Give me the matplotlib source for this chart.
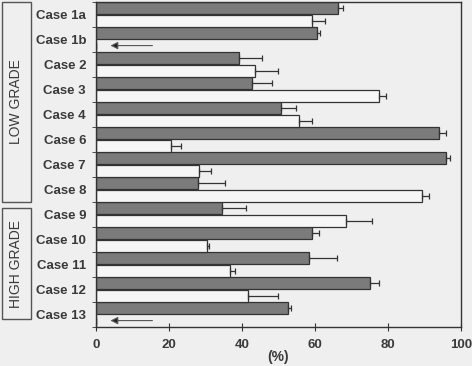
import matplotlib.pyplot as plt
import matplotlib.patches as mpatches
import numpy as np

cases = ['Case 1a', 'Case 1b', 'Case 2', 'Case 3', 'Case 4', 'Case 6', 'Case 7',
         'Case 8', 'Case 9', 'Case 10', 'Case 11', 'Case 12', 'Case 13']
gray_vals = [66.3, 60.5, 39.2, 42.8, 50.7, 93.9, 95.9, 28.0, 34.6, 59.1, 58.4, 75.1, 52.5]
gray_err = [1.4, 0.9, 6.3, 5.3, 4.0, 2.0, 1.1, 7.3, 6.5, 2.1, 7.6, 2.5, 0.9]
white_vals = [59.2, 0, 43.6, 77.6, 55.7, 20.5, 28.3, 89.2, 68.5, 30.5, 36.7, 41.7, 0]
white_err = [3.5, 0, 6.2, 1.9, 3.5, 2.8, 3.2, 1.9, 7.0, 0.5, 1.4, 8.1, 0]

bg = '#efefef'
txt = '#3a3a3a'
edge = '#333333'

plt.rcParams['font.family'] = 'Liberation Sans'
plt.rcParams['font.weight'] = 'bold'

fig = plt.figure(figsize=(4.72, 3.66), dpi=100, facecolor=bg)
ax = fig.add_axes([0.203, 0.107, 0.774, 0.888], facecolor=bg)

y = np.arange(len(cases))
h = 0.48
zeros = [0] * len(cases)
ekw = dict(ecolor=edge, elinewidth=0.9, capsize=2.5, capthick=0.9)
ax.barh(y - 0.25, gray_vals, height=h, color='#7b7b7b', edgecolor=edge, linewidth=0.9,
        xerr=[zeros, gray_err], error_kw=ekw)
ax.barh(y + 0.25, white_vals, height=h, color='#f6f6f6', edgecolor=edge, linewidth=0.9,
        xerr=[zeros, white_err], error_kw=ekw)

# arrows where the white value is zero
for i, v in enumerate(white_vals):
    if v == 0:
        ax.annotate('', xy=(4.0, i + 0.25), xytext=(15.5, i + 0.25),
                    arrowprops=dict(arrowstyle='-|>', color='#555555', lw=0.8,
                                    mutation_scale=11, shrinkA=0, shrinkB=0,
                                    fc='#222222'))

ax.set_xlim(0, 100)
ax.set_ylim(len(cases) - 0.5, -0.5)
ax.set_xticks([0, 20, 40, 60, 80, 100])
ax.set_yticks(y)
ax.set_yticklabels(cases, fontsize=9.5, color=txt, fontweight='bold')
ax.set_yticks(np.arange(len(cases) + 1) - 0.5, minor=True)
ax.tick_params(axis='y', which='major', length=0, pad=7)
ax.tick_params(axis='y', which='minor', length=3, direction='out', color=edge)
ax.tick_params(axis='x', length=6, direction='inout', color=edge, labelsize=9.5,
               labelcolor=txt, pad=6)
for lab in ax.get_xticklabels():
    lab.set_fontweight('bold')
for s in ax.spines.values():
    s.set_color(edge)
    s.set_linewidth(1.0)
ax.set_xlabel('(%)', fontsize=10, color=txt, fontweight='bold', labelpad=-1)

# group boxes on the left
groups = [('LOW GRADE', 2, 202), ('HIGH GRADE', 208, 319)]
for name, top, bot in groups:
    x0, x1 = 2 / 472, 31 / 472
    y0, y1 = 1 - bot / 366, 1 - top / 366
    fig.patches.append(mpatches.Rectangle((x0, y0), x1 - x0, y1 - y0, transform=fig.transFigure,
                                          fill=False, edgecolor='#555555', linewidth=1.0))
    fig.text((x0 + x1) / 2, (y0 + y1) / 2, name, rotation=90, ha='center', va='center',
             fontsize=10, color=txt, fontweight='normal')

fig.savefig('out.png', dpi=100, facecolor=bg)
